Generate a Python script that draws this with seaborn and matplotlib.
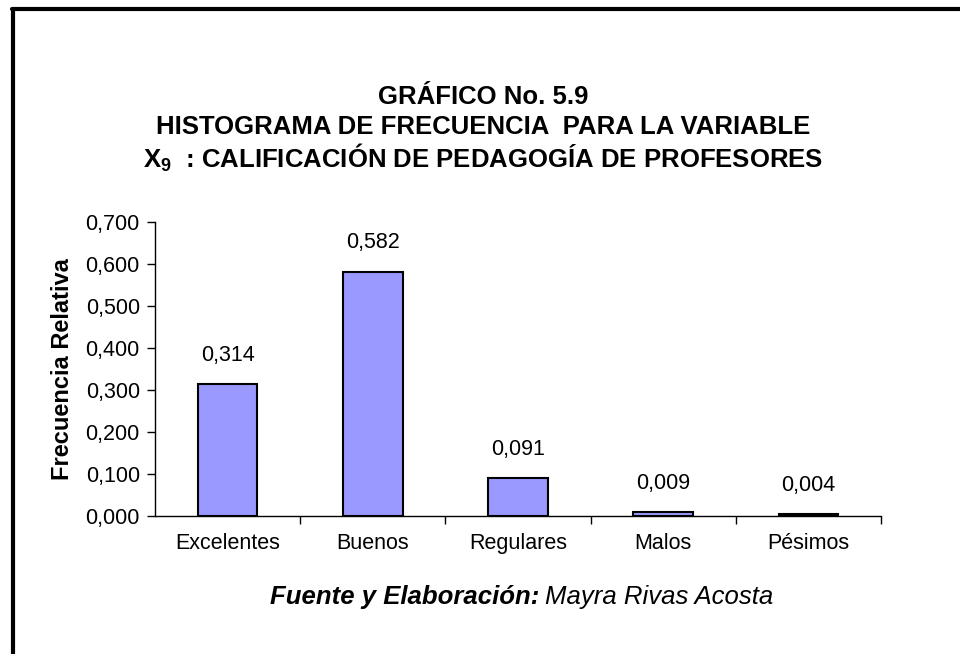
import matplotlib
matplotlib.use('Agg')
import matplotlib.pyplot as plt
import seaborn as sns
from matplotlib.lines import Line2D
from matplotlib.ticker import FixedLocator, FuncFormatter

categorias = ['Excelentes', 'Buenos', 'Regulares', 'Malos', 'Pésimos']
frecuencias = [0.314, 0.582, 0.091, 0.009, 0.004]
etiquetas = ['0,314', '0,582', '0,091', '0,009', '0,004']
yticks = [0.0, 0.1, 0.2, 0.3, 0.4, 0.5, 0.6, 0.7]

sns.set_style('white')
plt.rcParams['font.family'] = ['Liberation Sans', 'DejaVu Sans']
plt.rcParams['text.color'] = 'black'
plt.rcParams['axes.labelcolor'] = 'black'
plt.rcParams['xtick.color'] = 'black'
plt.rcParams['ytick.color'] = 'black'
plt.rcParams['mathtext.fontset'] = 'custom'
plt.rcParams['mathtext.rm'] = 'Liberation Sans:bold'
plt.rcParams['mathtext.it'] = 'Liberation Sans:bold'
plt.rcParams['mathtext.bf'] = 'Liberation Sans:bold'

fig = plt.figure(figsize=(9.6, 6.54), dpi=100)
ax = fig.add_axes([0.1615, 0.211, 0.7562, 0.4496])

sns.barplot(x=categorias, y=frecuencias, color='#9999FF', saturation=1,
            edgecolor='black', linewidth=1.5, width=0.41, ax=ax)

ax.set_xlim(-0.5, 4.5)
ax.set_ylim(0, 0.7)
ax.set_yticks(yticks)
ax.yaxis.set_major_formatter(FuncFormatter(lambda v, p: f'{v:.3f}'.replace('.', ',')))
ax.tick_params(axis='y', labelsize=15.5, length=6, width=1, color='black',
               direction='out', left=True, pad=5)
ax.tick_params(axis='x', labelsize=15.5, length=0, pad=12)
ax.xaxis.set_minor_locator(FixedLocator([0.5, 1.5, 2.5, 3.5, 4.5]))
ax.tick_params(axis='x', which='minor', length=6, width=1, color='black',
               direction='out', bottom=True)

for s in ['top', 'right']:
    ax.spines[s].set_visible(False)
for s in ['left', 'bottom']:
    ax.spines[s].set_color('black')
    ax.spines[s].set_linewidth(1)

ax.set_xlabel('')
ax.set_ylabel('Frecuencia Relativa', fontsize=17, fontweight='bold', labelpad=8)

ax.bar_label(ax.containers[0], labels=etiquetas, padding=13, fontsize=15.5)

fig.text(0.503, 0.852, 'GRÁFICO No. 5.9', ha='center', va='center',
         fontsize=18.5, fontweight='bold')
fig.text(0.503, 0.806, 'HISTOGRAMA DE FRECUENCIA  PARA LA VARIABLE', ha='center',
         va='center', fontsize=18.5, fontweight='bold')
fig.text(0.503, 0.759, r'X$_9$  : CALIFICACIÓN DE PEDAGOGÍA DE PROFESORES',
         ha='center', va='center', fontsize=18.5, fontweight='bold')

fig.text(0.562, 0.087, 'Fuente y Elaboración:', ha='right', va='center',
         fontsize=18.5, fontweight='bold', style='italic')
fig.text(0.568, 0.087, 'Mayra Rivas Acosta', ha='left', va='center',
         fontsize=18.5, style='italic')

fig.add_artist(Line2D([0.0135, 0.0135], [0, 0.986], transform=fig.transFigure,
                      color='black', linewidth=3))
fig.add_artist(Line2D([0.0125, 1], [0.986, 0.986], transform=fig.transFigure,
                      color='black', linewidth=3))

fig.savefig('out.png', dpi=100)
